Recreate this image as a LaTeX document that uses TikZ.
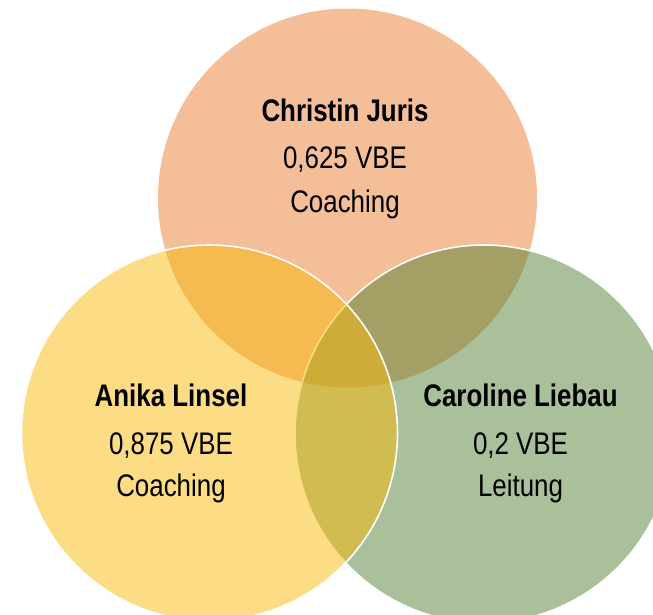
\documentclass[tikz,border=0pt]{standalone}
\usepackage{fontspec}
\setmainfont[FakeStretch=0.83]{Liberation Sans}
\definecolor{topc}{RGB}{233,125,49}
\definecolor{leftc}{RGB}{249,185,9}
\definecolor{rightc}{RGB}{83,129,53}
\begin{document}
\begin{tikzpicture}[x=1pt,y=-1pt,
  setbox/.style={circle,inner sep=0pt,outer sep=0pt,fill opacity=0.5,line width=1.6pt},
  lbl/.style={anchor=base,inner sep=0pt,text=black,font=\fontsize{31.2}{36}\selectfont},
  lblb/.style={lbl,font=\fontsize{31.2}{36}\selectfont\bfseries}]
\useasboundingbox (0,0) rectangle (653,614);
\clip (0,0) rectangle (653,614);
\node[setbox,fill=topc,minimum size=379pt] (ctop) at (347.5,198) {};
\node[setbox,fill=rightc,draw=white,minimum size=378pt] (cright) at (484,434) {};
\node[setbox,fill=leftc,draw=white,minimum size=376pt] (cleft) at (209.5,433) {};
% labels
\node[lblb] (t1) at (345,121) {Christin Juris};
\node[lbl]  (t2) at (345,168) {0,625 VBE};
\node[lbl]  (t3) at (345,212) {Coaching};
\node[lblb] (l1) at (171,406.5) {Anika Linsel};
\node[lbl]  (l2) at (171,454) {0,875 VBE};
\node[lbl]  (l3) at (171,496) {Coaching};
\node[lblb] (r1) at (520.5,406.5) {Caroline Liebau};
\node[lbl]  (r2) at (520.5,454) {0,2 VBE};
\node[lbl]  (r3) at (520.5,496) {Leitung};
\end{tikzpicture}
\end{document}
